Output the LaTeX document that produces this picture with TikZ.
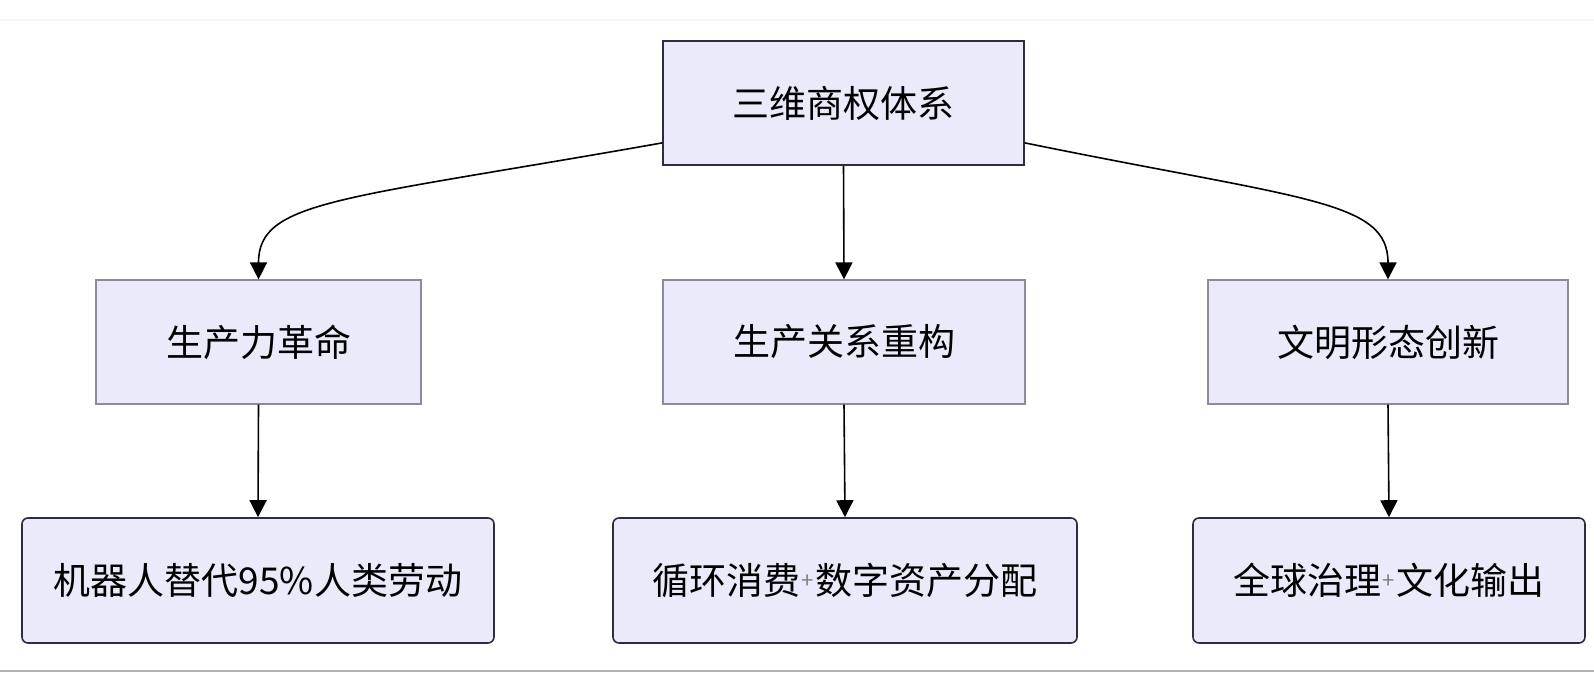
\documentclass[tikz,border=0pt]{standalone}
\usepackage{fontspec}
\usetikzlibrary{arrows.meta}
\newfontfamily\cjk{Noto Sans CJK SC}
\definecolor{boxfill}{HTML}{EAEAFA}
\definecolor{darkedge}{HTML}{2E2C40}
\definecolor{lightedge}{HTML}{8C8C98}
\newcommand{\smallplus}{\hspace{1pt}\raisebox{6pt}{\fontsize{22}{22}\selectfont\color{black!50}+}\hspace{1pt}}
\begin{document}
\begin{tikzpicture}[x=1pt,y=-1pt,
  base/.style={fill=boxfill, inner sep=0pt, font=\cjk\fontsize{37}{40}\selectfont, text=black},
  topbox/.style={base, draw=darkedge, line width=1.8pt, minimum width=361pt, minimum height=124pt},
  midbox/.style={base, draw=lightedge, line width=1.2pt, minimum width=#1, minimum height=124pt},
  botbox/.style={base, draw=darkedge, line width=1.6pt, rounded corners=6pt, minimum width=#1, minimum height=125pt},
  conn/.style={draw=black, line width=1.6pt, -{Triangle[length=17pt,width=17pt]}}
]
\useasboundingbox (0,0) rectangle (1594,672);
\fill[white] (0,0) rectangle (1594,672);
\draw[black!4, line width=1.5pt] (0,20) -- (1594,20);
\draw[black!30, line width=2pt] (0,671) -- (1594,671);

\node[topbox] (top) at (843.5,103) {三维商权体系};

\node[midbox=325pt] (m1) at (258.5,342) {生产力革命};
\node[midbox=362pt] (m2) at (844,342) {生产关系重构};
\node[midbox=360pt] (m3) at (1388,342) {文明形态创新};

\node[botbox=472pt] (b1) at (258,580.5) {机器人替代95\%人类劳动};
\node[botbox=464pt] (b2) at (845,580.5) {循环消费\smallplus 数字资产分配};
\node[botbox=392pt] (b3) at (1389,580.5) {全球治理\smallplus 文化输出};

\coordinate (tl) at ([yshift=23pt]top.south west);
\coordinate (tr) at ([yshift=23pt]top.south east);

\draw[conn] (tl) .. controls (340,200) and (m1.north |- 0,200) .. (m1.north);
\draw[conn] (top.south) -- (m2.north);
\draw[conn] (tr) .. controls (1305,200) and (m3.north |- 0,200) .. (m3.north);

\draw[conn] (m1.south) -- (b1.north);
\draw[conn] (m2.south) -- (b2.north);
\draw[conn] (m3.south) -- (b3.north);
\end{tikzpicture}
\end{document}
